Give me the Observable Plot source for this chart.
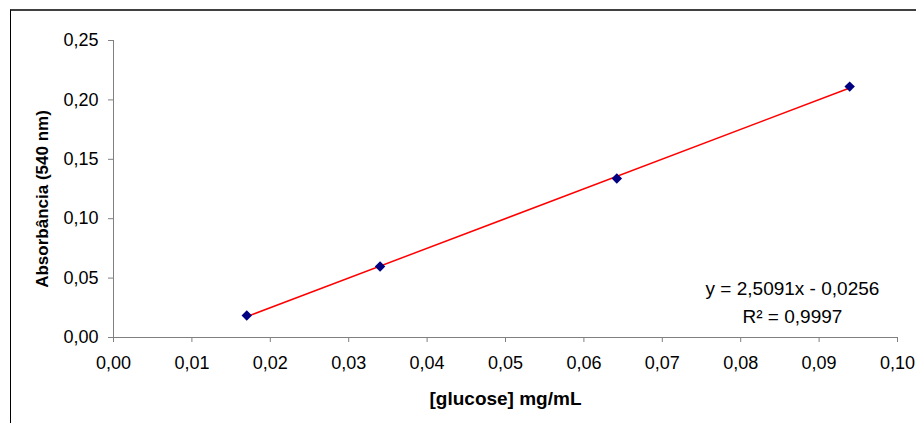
<!DOCTYPE html>
<html>
<head>
<meta charset="utf-8">
<script src="https://cdn.jsdelivr.net/npm/d3@7"></script>
<script src="https://cdn.jsdelivr.net/npm/@observablehq/plot@0.6"></script>
<style>
  html, body { margin: 0; padding: 0; background: #fff; }
  #wrap { position: relative; width: 916px; height: 423px; overflow: hidden; }
  #border { position: absolute; left: 10px; top: 9px; right: -5px; bottom: -5px;
            border-top: 2px solid #404040; border-left: 1px solid #000; pointer-events: none; }
  #chart { position: absolute; left: 0; top: 0; }
</style>
</head>
<body>
<div id="wrap"><div id="chart"></div><div id="border"></div></div>
<script>
// Data
const glucose = [0.017, 0.034, 0.0642, 0.0939];        // mg/mL
const absorbance = [0.0185, 0.0598, 0.1338, 0.2112];   // 540 nm
const xTicks = [0, 0.01, 0.02, 0.03, 0.04, 0.05, 0.06, 0.07, 0.08, 0.09, 0.10];
const yTicks = [0, 0.05, 0.10, 0.15, 0.20, 0.25];
const xTitle = "[glucose] mg/mL";
const yTitle = "Absorbância (540 nm)";
const equationLines = ["y = 2,5091x - 0,0256", "R² = 0,9997"];
const equationX = [0.0866, 0.0866];
const equationY = [0.0354, 0.0126];

const data = glucose.map((x, i) => ({x, y: absorbance[i]}));
const eq = equationLines.map((t, i) => ({t, x: equationX[i], y: equationY[i]}));
const fmt = d => d.toFixed(2).replace(".", ",");
const font = "'Liberation Sans', Arial, sans-serif";

const chart = Plot.plot({
  width: 916,
  height: 423,
  marginLeft: 113,
  marginRight: 19,
  marginTop: 40,
  marginBottom: 86,
  style: {fontFamily: font, fontSize: "18px", color: "#000", background: "transparent"},
  x: {domain: [0, 0.1]},
  y: {domain: [0, 0.25]},
  marks: [
    Plot.axisX({ticks: xTicks, tickFormat: fmt, tickSize: 5, tickPadding: 14, stroke: "#808080", label: null, fontSize: 18}),
    Plot.axisY({ticks: yTicks, tickFormat: fmt, tickSize: 5, tickPadding: 10, stroke: "#808080", label: null, fontSize: 18}),
    Plot.ruleY([0], {stroke: "#808080"}),
    Plot.ruleX([0], {stroke: "#808080"}),
    Plot.linearRegressionY(data, {x: "x", y: "y", stroke: "#ff0000", strokeWidth: 1.5, ci: 0}),
    Plot.dot(data, {x: "x", y: "y", symbol: "diamond2", r: 4.7, fill: "#000080", stroke: "none"}),
    Plot.text(eq, {x: "x", y: "y", text: "t", lineAnchor: "bottom", textAnchor: "middle", fontSize: 19, fill: "#000"}),
    Plot.text([xTitle], {frameAnchor: "bottom", dy: 67, lineAnchor: "bottom", textAnchor: "middle", fontWeight: "bold", fontSize: 19, fill: "#000"}),
    Plot.text([yTitle], {frameAnchor: "left", dx: -66, dy: 10, rotate: -90, lineAnchor: "bottom", textAnchor: "middle", fontWeight: "bold", fontSize: 17, fill: "#000"})
  ]
});
document.getElementById("chart").appendChild(chart);
</script>
</body>
</html>
